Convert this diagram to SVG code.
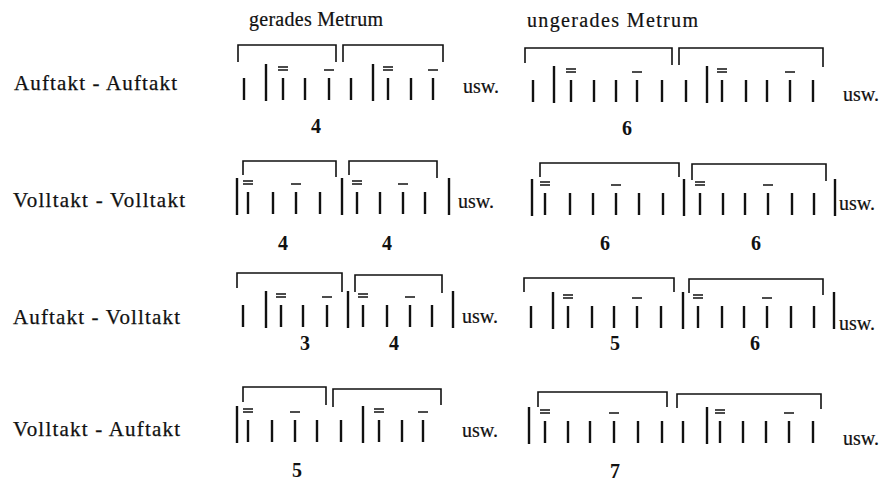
<svg xmlns="http://www.w3.org/2000/svg" xmlns:xlink="http://www.w3.org/1999/xlink" width="888" height="481" viewBox="0 0 888 481">
<style>
text{font-family:"Liberation Serif","Times New Roman",serif;fill:#111}
.lbl{font-size:21px;stroke:#111;stroke-width:0.25}
.ttl{font-size:20px;stroke:#111;stroke-width:0.2}
.usw{font-size:20px;stroke:#111;stroke-width:0.2}
.num{font-size:20px;font-weight:bold}
.st{stroke:#111;stroke-width:2.4;fill:none}
.mk{stroke:#111;stroke-width:1.5;fill:none}
.br{stroke:#111;stroke-width:1.6;fill:none}
</style>
<defs>
<path id="s" d="M0,0V22" class="st"/>
<path id="t" d="M0,-14V23" class="st"/>
<g id="e"><path d="M0,0V22" class="st"/><path d="M-5,-11H5M-5,-8H5" class="mk"/></g>
<g id="d"><path d="M0,0V22" class="st"/><path d="M-5,-8H5" class="mk"/></g>
</defs>
<rect width="888" height="481" fill="#fff"/>
<g id="titles">
<text class="ttl" x="249" y="26" textLength="134" lengthAdjust="spacing">gerades Metrum</text>
<text class="ttl" x="527" y="27" textLength="171" lengthAdjust="spacing">ungerades Metrum</text>
</g>
<g id="labels">
<text class="lbl" x="14" y="90" textLength="163" lengthAdjust="spacing">Auftakt - Auftakt</text>
<text class="lbl" x="13" y="207" textLength="172" lengthAdjust="spacing">Volltakt - Volltakt</text>
<text class="lbl" x="13" y="324" textLength="167" lengthAdjust="spacing">Auftakt - Volltakt</text>
<text class="lbl" x="13" y="436" textLength="167" lengthAdjust="spacing">Volltakt - Auftakt</text>
</g>
<g id="row1">
<g id="r1-left">
<path class="br" d="M238,62V45H336V62M343,62V45H443V62"/>
<g transform="translate(0,78)">
<use href="#s" x="244"/><use href="#t" x="266"/><use href="#e" x="283"/><use href="#s" x="305"/><use href="#d" x="329"/>
<use href="#s" x="351"/><use href="#t" x="373"/><use href="#e" x="388"/><use href="#s" x="411"/><use href="#d" x="433"/>
</g>
<text class="usw" x="463" y="93">usw.</text>
<text class="num" x="316" y="133" text-anchor="middle">4</text>
</g>
<g id="r1-right">
<path class="br" d="M525,63V48H672V65M679,65V48H823V67"/>
<g transform="translate(0,80)">
<use href="#s" x="533"/><use href="#t" x="554"/><use href="#e" x="571"/><use href="#s" x="594"/><use href="#s" x="616"/><use href="#d" x="637"/><use href="#s" x="662"/>
<use href="#s" x="686"/><use href="#t" x="707"/><use href="#e" x="722"/><use href="#s" x="746"/><use href="#s" x="767"/><use href="#d" x="790"/><use href="#s" x="813"/>
</g>
<text class="usw" x="843" y="101">usw.</text>
<text class="num" x="627" y="135" text-anchor="middle">6</text>
</g>
</g>
<g id="row2">
<g id="r2-left">
<path class="br" d="M243,175V161H336V177M349,175V161H437V178"/>
<g transform="translate(0,192)">
<use href="#t" x="237"/><use href="#e" x="248"/><use href="#s" x="273"/><use href="#d" x="296"/><use href="#s" x="320"/>
<use href="#t" x="342"/><use href="#e" x="357"/><use href="#s" x="380"/><use href="#d" x="403"/><use href="#s" x="425"/><use href="#t" x="449"/>
</g>
<text class="usw" x="458" y="208">usw.</text>
<text class="num" x="283" y="250" text-anchor="middle">4</text>
<text class="num" x="387" y="250" text-anchor="middle">4</text>
</g>
<g id="r2-right">
<path class="br" d="M540,177V163H679V177M692,180V164H826V181"/>
<g transform="translate(0,193)">
<use href="#t" x="532"/><use href="#e" x="545"/><use href="#s" x="570"/><use href="#s" x="593"/><use href="#d" x="616"/><use href="#s" x="639"/><use href="#s" x="663"/>
<use href="#t" x="684"/><use href="#e" x="700"/><use href="#s" x="723"/><use href="#s" x="745"/><use href="#d" x="768"/><use href="#s" x="792"/><use href="#s" x="814"/><use href="#t" x="835"/>
</g>
<text class="usw" x="839" y="210">usw.</text>
<text class="num" x="605" y="250" text-anchor="middle">6</text>
<text class="num" x="756" y="250" text-anchor="middle">6</text>
</g>
</g>
<g id="row3">
<g id="r3-left">
<path class="br" d="M237,288V273H342V292M355,292V275H442V293"/>
<g transform="translate(0,305)">
<use href="#s" x="243"/><use href="#t" x="266"/><use href="#e" x="281"/><use href="#s" x="303"/><use href="#d" x="327"/>
<use href="#t" x="348"/><use href="#e" x="363"/><use href="#s" x="387"/><use href="#d" x="410"/><use href="#s" x="432"/><use href="#t" x="453"/>
</g>
<text class="usw" x="462" y="323">usw.</text>
<text class="num" x="305" y="350" text-anchor="middle">3</text>
<text class="num" x="394" y="350" text-anchor="middle">4</text>
</g>
<g id="r3-right">
<path class="br" d="M524,292V278H674V292M689,293V279H823V295"/>
<g transform="translate(0,306)">
<use href="#s" x="531"/><use href="#t" x="553"/><use href="#e" x="568"/><use href="#s" x="592"/><use href="#s" x="614"/><use href="#d" x="637"/><use href="#s" x="661"/>
<use href="#t" x="683"/><use href="#e" x="698"/><use href="#s" x="722"/><use href="#s" x="744"/><use href="#d" x="767"/><use href="#s" x="791"/><use href="#s" x="814"/><use href="#t" x="834"/>
</g>
<text class="usw" x="839" y="330">usw.</text>
<text class="num" x="615" y="350" text-anchor="middle">5</text>
<text class="num" x="755" y="350" text-anchor="middle">6</text>
</g>
</g>
<g id="row4">
<g id="r4-left">
<path class="br" d="M243,402V387H326V405M333,407V389H441V405"/>
<g transform="translate(0,420)">
<use href="#t" x="237"/><use href="#e" x="248"/><use href="#s" x="272"/><use href="#d" x="295"/><use href="#s" x="317"/>
<use href="#s" x="341"/><use href="#t" x="363"/><use href="#e" x="379"/><use href="#s" x="402"/><use href="#d" x="423"/>
</g>
<text class="usw" x="462" y="437">usw.</text>
<text class="num" x="297" y="477" text-anchor="middle">5</text>
</g>
<g id="r4-right">
<path class="br" d="M538,407V392H667V407M677,408V394H821V409"/>
<g transform="translate(0,421)">
<use href="#t" x="529"/><use href="#e" x="545"/><use href="#s" x="568"/><use href="#s" x="590"/><use href="#d" x="614"/><use href="#s" x="638"/><use href="#s" x="662"/>
<use href="#s" x="683"/><use href="#t" x="707"/><use href="#e" x="720"/><use href="#s" x="743"/><use href="#s" x="766"/><use href="#d" x="789"/><use href="#s" x="813"/>
</g>
<text class="usw" x="843" y="445">usw.</text>
<text class="num" x="615" y="478" text-anchor="middle">7</text>
</g>
</g>
</svg>
